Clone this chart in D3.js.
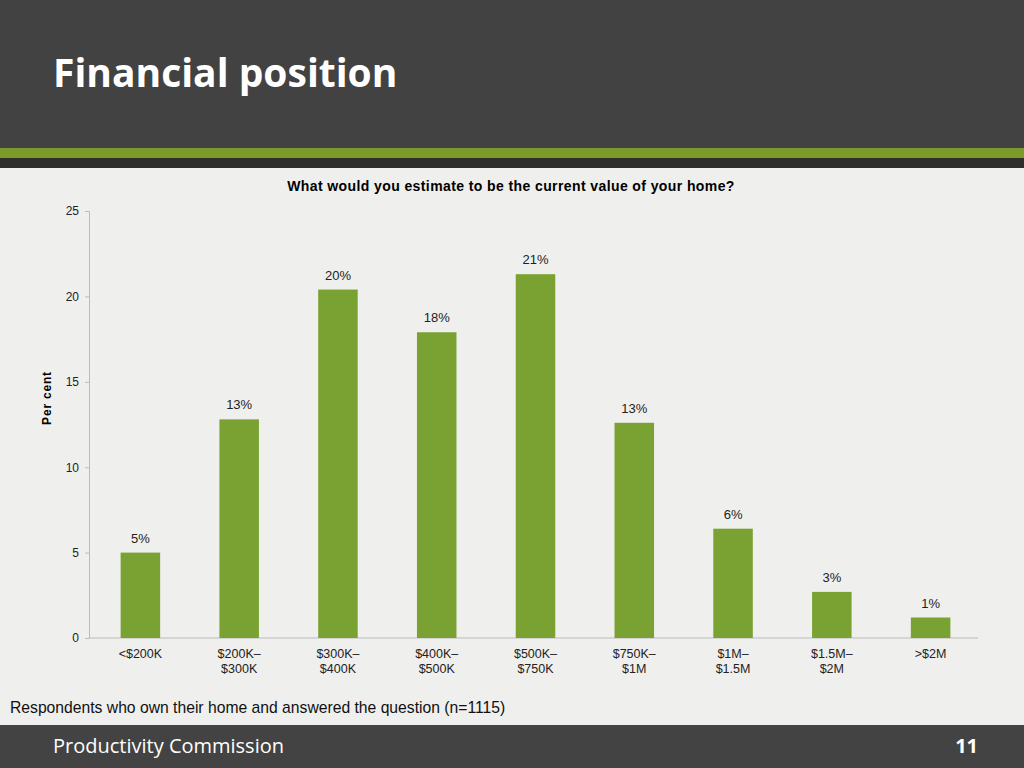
<!DOCTYPE html>
<html><head><meta charset="utf-8">
<script src="https://cdn.jsdelivr.net/npm/d3@7"></script>
<style>body{margin:0;background:#efefed;}</style>
</head><body><svg id="c" width="1024" height="768"></svg>
<script>
const categories = ['<$200K', '$200K–\n$300K', '$300K–\n$400K', '$400K–\n$500K', '$500K–\n$750K', '$750K–\n$1M', '$1M–\n$1.5M', '$1.5M–\n$2M', '>$2M'];
const values = [5.0, 12.8, 20.4, 17.9, 21.3, 12.6, 6.4, 2.7, 1.2];
const labels = ['5%', '13%', '20%', '18%', '21%', '13%', '6%', '3%', '1%'];
const yTicks = [0, 5, 10, 15, 20, 25];

const svg = d3.select('#c');
const font = 'Liberation Sans, Arial, sans-serif';

svg.append('rect').attr('width', 1024).attr('height', 768).attr('fill', '#efefed');
svg.append('rect').attr('width', 1024).attr('height', 148).attr('fill', '#424242');
svg.append('rect').attr('y', 148).attr('width', 1024).attr('height', 10).attr('fill', '#7b9b2b');
svg.append('rect').attr('y', 158).attr('width', 1024).attr('height', 10).attr('fill', '#2e2f2d');
svg.append('text').attr('x', 53).attr('y', 87).attr('fill', '#fff')
  .style('font', 'bold 39px "Open Sans", sans-serif').text('Financial position');

svg.append('rect').attr('y', 725).attr('width', 1024).attr('height', 43).attr('fill', '#434343');
svg.append('text').attr('x', 53).attr('y', 753).attr('fill', '#fff')
  .style('font', '20px "Open Sans", sans-serif').text('Productivity Commission');
svg.append('text').attr('x', 978).attr('y', 753).attr('fill', '#fff').attr('text-anchor', 'end')
  .style('font', 'bold 20px "Open Sans", sans-serif').text('11');

const x = d3.scaleBand().domain(categories).range([91, 980]).paddingInner(0.6).paddingOuter(0.3);
const y = d3.scaleLinear().domain([0, 25]).range([638, 211]);

svg.append('text').attr('x', 511).attr('y', 191).attr('text-anchor', 'middle')
  .style('font', 'bold 14px ' + font).style('letter-spacing', '0.4px')
  .text('What would you estimate to be the current value of your home?');

const ya = svg.append('g').attr('transform', 'translate(89,0)')
  .call(d3.axisLeft(y).tickValues(yTicks).tickSize(4).tickPadding(6));
ya.select('.domain').attr('stroke', '#bbb');
ya.selectAll('.tick line').attr('stroke', '#bbb');
ya.selectAll('text').style('font', '12px ' + font).attr('fill', '#222');

svg.append('line').attr('x1', 89).attr('x2', 978).attr('y1', 638).attr('y2', 638).attr('stroke', '#bbb');

svg.append('text').attr('transform', 'translate(51,398) rotate(-90)').attr('text-anchor', 'middle')
  .style('font', 'bold 12px ' + font).style('letter-spacing', '0.8px').text('Per cent');

svg.selectAll('.bar').data(values).join('rect')
  .attr('x', (d, i) => x(categories[i])).attr('width', x.bandwidth())
  .attr('y', d => y(d)).attr('height', d => y(0) - y(d)).attr('fill', '#7aa232');

svg.selectAll('.lbl').data(values).join('text')
  .attr('x', (d, i) => x(categories[i]) + x.bandwidth() / 2).attr('y', d => y(d) - 10)
  .attr('text-anchor', 'middle').style('font', '13px ' + font).attr('fill', '#222')
  .text((d, i) => labels[i]);

categories.forEach(c => {
  const t = svg.append('text').attr('x', x(c) + x.bandwidth() / 2).attr('y', 658)
    .attr('text-anchor', 'middle').style('font', '12.5px ' + font).attr('fill', '#222');
  c.split('\n').forEach((s, k) => t.append('tspan').attr('x', x(c) + x.bandwidth() / 2).attr('dy', k ? 15 : 0).text(s));
});

svg.append('text').attr('x', 10).attr('y', 713).style('font', '15.7px ' + font).attr('fill', '#111')
  .text('Respondents who own their home and answered the question (n=1115)');
</script></body></html>
